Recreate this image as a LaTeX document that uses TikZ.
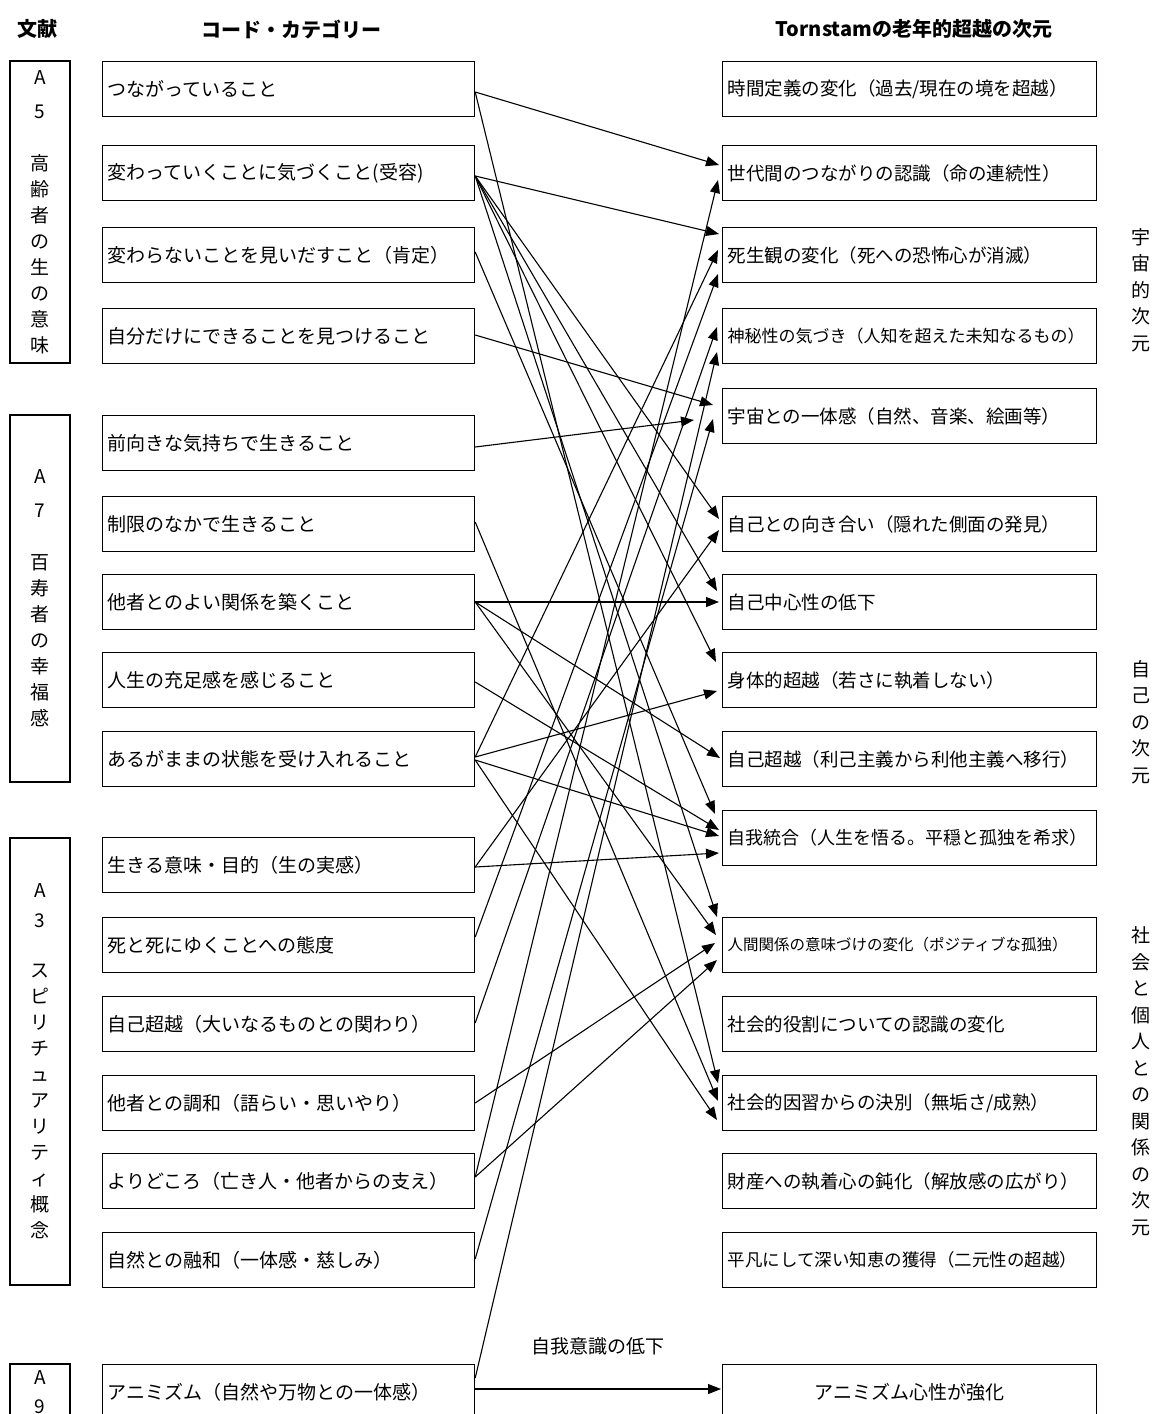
\documentclass[tikz,border=0pt]{standalone}
\usepackage{fontspec}
\setmainfont{Noto Sans CJK JP}
\usetikzlibrary{arrows.meta}
\begin{document}
\begin{tikzpicture}[x=1pt,y=-1pt,
  every node/.style={inner sep=0pt},
  code/.style={draw=black, line width=1.2pt, anchor=west, minimum height=55pt,
    text width=362pt, inner xsep=5pt, align=left, font=\fontsize{19}{22}\selectfont},
  dimbox/.style={code, text width=364pt, font=\fontsize{18.5}{22}\selectfont},
  src/.style={draw=black, line width=1.2pt, minimum width=60pt, align=center,
    font=\fontsize{19}{26}\selectfont},
  axislabel/.style={align=center, font=\fontsize{19}{26.5}\selectfont},
  head/.style={font=\fontsize{20}{24}\selectfont\bfseries},
  link/.style={line width=1.1pt, -{Triangle[length=13pt,width=10pt]}},
]
\useasboundingbox (0,0) rectangle (1161,1414);
\clip (0,0) rectangle (1161,1414);

% column headings
\node[head] (h1) at (37,29) {文献};
\node[head] (h2) at (291,29) {コード・カテゴリー};
\node[head] (h3) at (914,29) {Tornstamの老年的超越の次元};

% source boxes
\node[src, minimum height=302pt] (B1) at (40,212)
  {A\\[8pt]5\\[26pt]高\\齢\\者\\の\\生\\の\\意\\味};
\node[src, minimum height=367pt] (B2) at (40,598.5)
  {A\\[8pt]7\\[26pt]百\\寿\\者\\の\\幸\\福\\感};
\node[src, minimum height=447pt] (B3) at (40,1061.5)
  {A\\[4pt]3\\[24pt]ス\\ピ\\リ\\チ\\ュ\\ア\\リ\\テ\\ィ\\概\\念};
\node[src, minimum height=56pt, font=\fontsize{19}{29}\selectfont] (B4) at (40,1392) {A\\9};

% code categories
\node[code] (L1)  at (102,89)   {つながっていること};
\node[code] (L2)  at (102,173)  {変わっていくことに気づくこと(受容)};
\node[code] (L3)  at (102,255)  {変わらないことを見いだすこと（肯定）};
\node[code] (L4)  at (102,336)  {自分だけにできることを見つけること};
\node[code] (L5)  at (102,443)  {前向きな気持ちで生きること};
\node[code] (L6)  at (102,524)  {制限のなかで生きること};
\node[code] (L7)  at (102,602)  {他者とのよい関係を築くこと};
\node[code] (L8)  at (102,680)  {人生の充足感を感じること};
\node[code] (L9)  at (102,759)  {あるがままの状態を受け入れること};
\node[code] (L10) at (102,865)  {生きる意味・目的（生の実感）};
\node[code] (L11) at (102,945)  {死と死にゆくことへの態度};
\node[code] (L12) at (102,1024) {自己超越（大いなるものとの関わり）};
\node[code] (L13) at (102,1103) {他者との調和（語らい・思いやり）};
\node[code] (L14) at (102,1181) {よりどころ（亡き人・他者からの支え）};
\node[code] (L15) at (102,1260) {自然との融和（一体感・慈しみ）};
\node[code] (L16) at (102,1392) {アニミズム（自然や万物との一体感）};

% dimensions of gerotranscendence
\node[dimbox] (R1)  at (722,89)   {時間定義の変化（過去/現在の境を超越）};
\node[dimbox] (R2)  at (722,173)  {世代間のつながりの認識（命の連続性）};
\node[dimbox] (R3)  at (722,255)  {死生観の変化（死への恐怖心が消滅）};
\node[dimbox, font=\fontsize{17}{22}\selectfont] (R4) at (722,336) {神秘性の気づき（人知を超えた未知なるもの）};
\node[dimbox] (R5)  at (722,416)  {宇宙との一体感（自然、音楽、絵画等）};
\node[dimbox] (R6)  at (722,524)  {自己との向き合い（隠れた側面の発見）};
\node[dimbox] (R7)  at (722,602)  {自己中心性の低下};
\node[dimbox] (R8)  at (722,680)  {身体的超越（若さに執着しない）};
\node[dimbox] (R9)  at (722,759)  {自己超越（利己主義から利他主義へ移行）};
\node[dimbox, font=\fontsize{18}{22}\selectfont] (R10) at (722,838) {自我統合（人生を悟る。平穏と孤独を希求）};
\node[dimbox, font=\fontsize{15.5}{22}\selectfont] (R11) at (722,945) {人間関係の意味づけの変化（ポジティブな孤独）};
\node[dimbox] (R12) at (722,1024) {社会的役割についての認識の変化};
\node[dimbox] (R13) at (722,1103) {社会的因習からの決別（無垢さ/成熟）};
\node[dimbox] (R14) at (722,1181) {財産への執着心の鈍化（解放感の広がり）};
\node[dimbox, font=\fontsize{17.5}{22}\selectfont] (R15) at (722,1260) {平凡にして深い知恵の獲得（二元性の超越）};
\node[dimbox, align=center, font=\fontsize{19}{22}\selectfont] (R16) at (722,1392) {アニミズム心性が強化};

% dimension group labels
\node[axislabel] (g1) at (1141,290)  {宇\\宙\\的\\次\\元};
\node[axislabel] (g2) at (1141,722)  {自\\己\\の\\次\\元};
\node[axislabel] (g3) at (1141,1081) {社\\会\\と\\個\\人\\と\\の\\関\\係\\の\\次\\元};

% connectors
\draw[link] ([yshift=-3pt]L1.east)  -- ([xshift=-3pt,yshift=8pt]R2.west);
\draw[link] ([yshift=-3pt]L1.east)  -- ([xshift=-4pt,yshift=20pt]R13.west);
\draw[link] ([yshift=-3pt]L2.east)  -- ([xshift=-3pt,yshift=21pt]R3.west);
\draw[link] ([yshift=-3pt]L2.east)  -- ([xshift=-3pt,yshift=5pt]R6.west);
\draw[link] ([yshift=-3pt]L2.east)  -- ([xshift=-5pt,yshift=11pt]R7.west);
\draw[link] ([yshift=-3pt]L2.east)  -- ([xshift=-6pt,yshift=18pt]R8.west);
\draw[link] ([yshift=-3pt]L2.east)  -- ([xshift=-5pt,yshift=28pt]R11.west);
\draw[link] ([yshift=3pt]L3.east)   -- ([xshift=-7pt,yshift=24pt]R10.west);
\draw[link] ([yshift=1pt]L4.east)   -- ([xshift=-9pt,yshift=11pt]R5.west);
\draw[link] ([yshift=-4pt]L5.east)  -- ([xshift=-28pt,yshift=-4pt]R5.west);
\draw[link] ([yshift=2pt]L6.east)   -- ([xshift=-4pt,yshift=2pt]R13.west);
\draw[link] (L7.east)               -- ([xshift=-3pt]R7.west);
\draw[link] (L7.east)               -- ([xshift=-2pt,yshift=1pt]R9.west);
\draw[link] (L7.east)               -- ([xshift=-6pt,yshift=10pt]R11.west);
\draw[link] ([yshift=-2pt]L8.east)  -- ([xshift=-3pt,yshift=8pt]R10.west);
\draw[link] ([yshift=2pt]L9.east)   -- ([xshift=-5pt,yshift=-11pt]R8.west);
\draw[link] ([yshift=-1pt]L9.east)  -- ([xshift=-3pt,yshift=2pt]R10.west);
\draw[link] ([yshift=-1pt]L9.east)  -- ([xshift=-5pt,yshift=-17pt]R13.west);
\draw[link] ([yshift=2pt]L9.east)   -- ([xshift=-4pt,yshift=5pt]R3.west);
\draw[link] ([yshift=-2pt]L10.east) -- ([xshift=-3pt,yshift=-15pt]R10.west);
\draw[link] ([yshift=-2pt]L10.east) -- ([xshift=-3pt,yshift=-6pt]R6.west);
\draw[link] ([yshift=8pt]L11.east)  -- ([xshift=-4pt,yshift=-19pt]R3.west);
\draw[link] ([yshift=1pt]L12.east)  -- ([xshift=-5pt,yshift=9pt]R4.west);
\draw[link] (L13.east)              -- ([xshift=-7pt,yshift=2pt]R11.west);
\draw[link] ([yshift=4pt]L14.east)  -- ([xshift=-5pt,yshift=-15pt]R11.west);
\draw[link] ([yshift=4pt]L14.east)  -- ([xshift=-4pt,yshift=-7pt]R2.west);
\draw[link] ([yshift=1pt]L15.east)  -- ([xshift=-9pt,yshift=-3pt]R5.west);
\draw[link] ([yshift=14pt]L16.east) -- ([xshift=-5pt,yshift=-16pt]R4.west);
\draw[link] ([yshift=3pt]L16.east)  -- ([xshift=-1pt,yshift=3pt]R16.west)
  node[midway, above=33pt, font=\fontsize{19}{22}\selectfont] (lbl) {自我意識の低下};
\end{tikzpicture}
\end{document}
